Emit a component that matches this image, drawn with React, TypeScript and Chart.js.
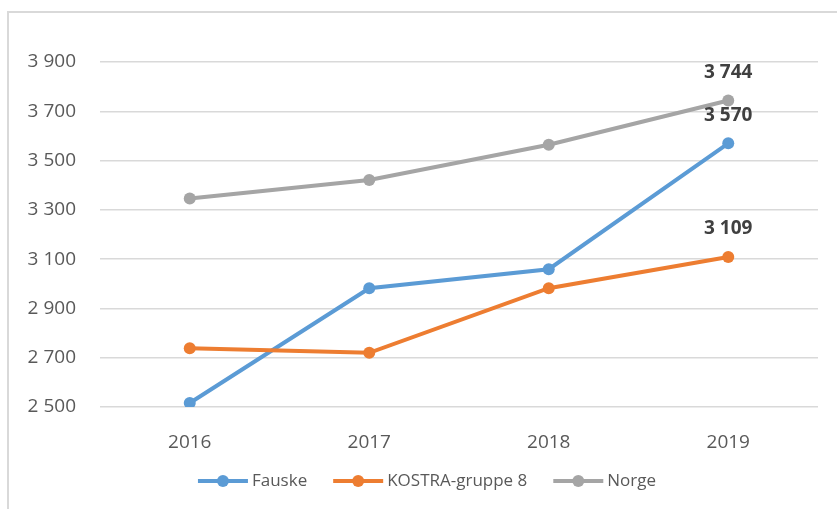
import React, { useEffect, useRef } from "react";
import { Chart, registerables } from "chart.js";

Chart.register(...registerables);

const categories = ["2016", "2017", "2018", "2019"];
const fauske = [2516, 2982, 3059, 3570];
const kostra = [2738, 2720, 2982, 3109];
const norge = [3346, 3421, 3564, 3744];
const seriesNames = ["Fauske", "KOSTRA-gruppe 8", "Norge"];
const seriesColors = ["#5B9BD5", "#ED7D31", "#A5A5A5"];
const yMin = 2500;
const yMax = 3900;
const yStep = 200;
const labeledIndex = 3;

const FONT = "'Open Sans', 'Noto Sans', sans-serif";
const TEXT_COLOR = "#595959";

function fmt(v: number): string {
  return String(Math.round(v)).replace(/\B(?=(\d{3})+(?!\d))/g, " ");
}

const dataLabelPlugin = {
  id: "dataLabels",
  afterDatasetsDraw(chart: any) {
    const ctx = chart.ctx;
    ctx.save();
    ctx.font = `bold 19px ${FONT}`;
    ctx.fillStyle = "#404040";
    ctx.textAlign = "center";
    ctx.textBaseline = "middle";
    chart.data.datasets.forEach((ds: any, i: number) => {
      const meta = chart.getDatasetMeta(i);
      const el = meta.data[labeledIndex];
      if (!el) return;
      ctx.fillText(fmt(ds.data[labeledIndex]), el.x, el.y - 28);
    });
    ctx.restore();
  },
};

const legendPlugin = {
  id: "lineLegend",
  afterDraw(chart: any, _args: any, opts: any) {
    const ctx = chart.ctx;
    const lineLen = 50;
    const gapText = 4;
    const gapItem = 26;
    ctx.save();
    ctx.font = `17px ${FONT}`;
    const items = chart.data.datasets.map((ds: any) => ({
      label: ds.label,
      color: ds.borderColor,
      w: ctx.measureText(ds.label).width,
    }));
    const total =
      items.reduce((s: number, it: any) => s + lineLen + gapText + it.w, 0) +
      gapItem * (items.length - 1);
    let x = opts.centerX - total / 2;
    const y = opts.y;
    items.forEach((it: any) => {
      ctx.strokeStyle = it.color;
      ctx.lineWidth = 4;
      ctx.beginPath();
      ctx.moveTo(x, y);
      ctx.lineTo(x + lineLen, y);
      ctx.stroke();
      ctx.fillStyle = it.color;
      ctx.beginPath();
      ctx.arc(x + lineLen / 2, y, 6, 0, Math.PI * 2);
      ctx.fill();
      ctx.fillStyle = TEXT_COLOR;
      ctx.textAlign = "left";
      ctx.textBaseline = "middle";
      ctx.fillText(it.label, x + lineLen + gapText, y);
      x += lineLen + gapText + it.w + gapItem;
    });
    ctx.restore();
  },
};

export default function App() {
  const canvasRef = useRef<HTMLCanvasElement | null>(null);

  useEffect(() => {
    if (!canvasRef.current) return;
    const seriesData = [fauske, kostra, norge];
    const chart = new Chart(canvasRef.current, {
      type: "line",
      data: {
        labels: categories,
        datasets: seriesData.map((d, i) => ({
          label: seriesNames[i],
          data: d,
          borderColor: seriesColors[i],
          backgroundColor: seriesColors[i],
          pointBackgroundColor: seriesColors[i],
          pointBorderColor: seriesColors[i],
          borderWidth: 4,
          pointRadius: 6,
          pointBorderWidth: 0,
          tension: 0,
          fill: false,
          order: seriesData.length - i,
        })),
      },
      options: {
        responsive: false,
        maintainAspectRatio: false,
        animation: false,
        layout: { padding: { top: 62, right: 19, left: 0, bottom: 0 } },
        scales: {
          x: {
            type: "category",
            offset: true,
            grid: { display: false },
            border: { display: false },
            ticks: { padding: 16, color: TEXT_COLOR, font: { family: FONT, size: 19 } },
            afterFit(scale: any) {
              scale.height = 102;
            },
          },
          y: {
            min: yMin,
            max: yMax,
            grid: { color: "#D9D9D9", lineWidth: 1.5, drawTicks: false },
            border: { display: false },
            ticks: {
              stepSize: yStep,
              padding: 24,
              color: TEXT_COLOR,
              font: { family: FONT, size: 19 },
              callback: (v: any) => fmt(Number(v)),
            },
            afterFit(scale: any) {
              scale.width = 100;
            },
          },
        },
        plugins: {
          legend: { display: false },
          tooltip: { enabled: false },
          lineLegend: { centerX: 427, y: 481 },
        } as any,
      },
      plugins: [dataLabelPlugin, legendPlugin],
    });
    return () => chart.destroy();
  }, []);

  return (
    <div style={{ position: "absolute", left: 0, top: 0, width: 837, height: 509, overflow: "hidden", background: "#fff" }}>
      <div
        style={{
          position: "absolute",
          left: 7,
          top: 11,
          width: 900,
          height: 600,
          border: "2px solid #D9D9D9",
          boxSizing: "border-box",
        }}
      />
      <canvas ref={canvasRef} width={837} height={509} style={{ position: "absolute", left: 0, top: 0 }} />
    </div>
  );
}
